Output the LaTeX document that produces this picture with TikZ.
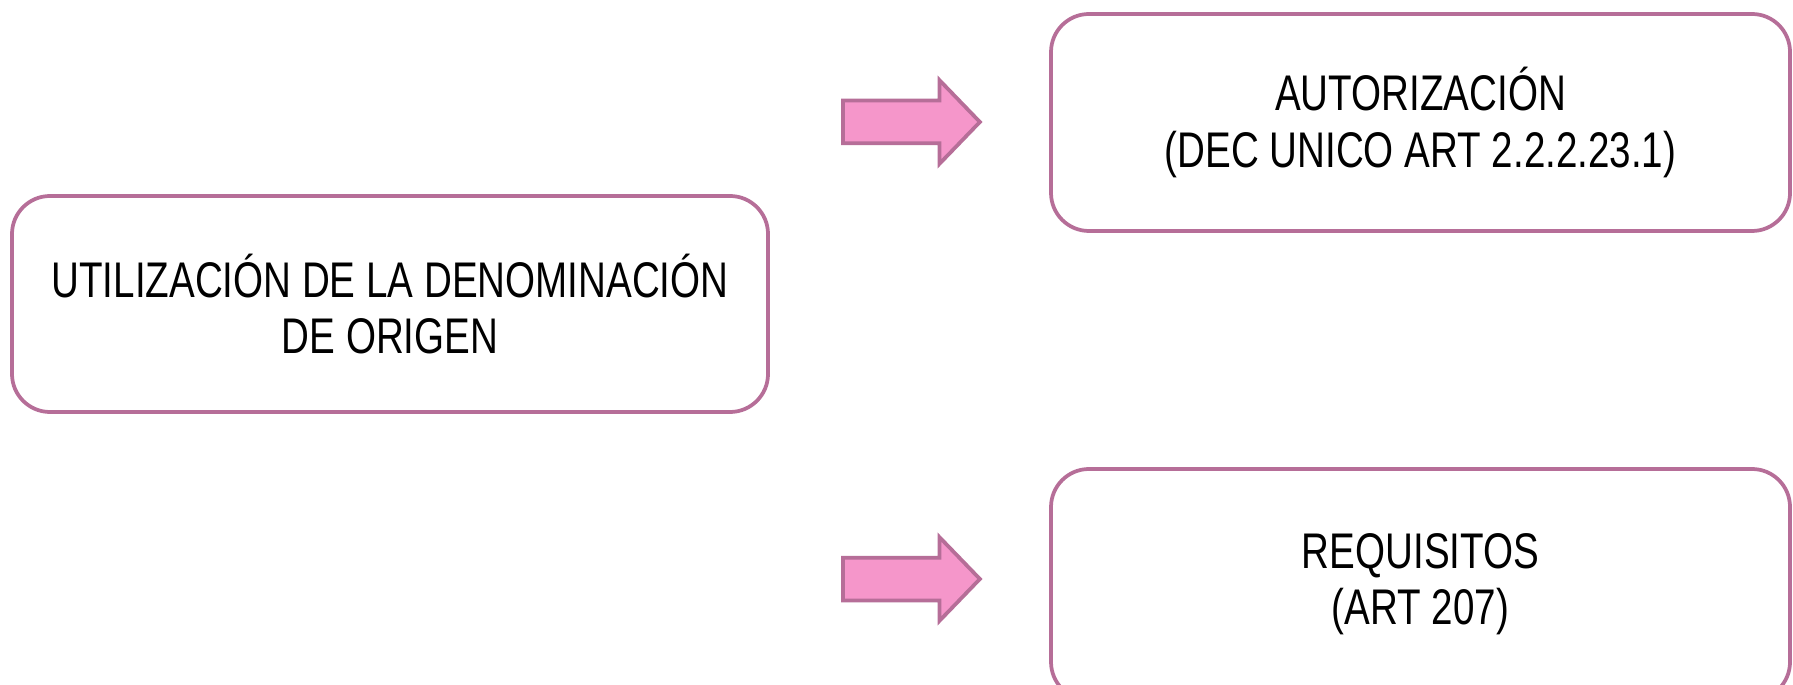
\documentclass[tikz,border=0pt]{standalone}
\usepackage{fontspec}
\setmainfont{Liberation Sans}[FakeStretch=0.77]
\usetikzlibrary{positioning,shapes.arrows}
\definecolor{boxline}{RGB}{182,110,152}
\definecolor{arrowfill}{RGB}{245,150,202}

\begin{document}
\begin{tikzpicture}
		[font=\fontsize{28.5pt}{31.9pt}\selectfont,
		rbox/.style={draw=boxline, line width=0.075cm, rounded corners=0.76cm, align=center, inner sep=0pt},
		blockarrow/.style={single arrow, draw=boxline, fill=arrowfill, line width=0.075cm,
			inner xsep=0pt, inner ysep=0.39cm, minimum height=2.74cm,
			single arrow head extend=0.41cm, single arrow tip angle=92, anchor=tail}]
		\clip (0,0) rectangle (35.86,13.68);
		\useasboundingbox (0,0) rectangle (35.86,13.68);
		\node (uso) [rbox, minimum width=15.12cm, minimum height=4.32cm] at (7.8,7.6)
			{UTILIZACIÓN DE LA DENOMINACIÓN\\DE ORIGEN};
		\node (aut) [rbox, minimum width=14.78cm, minimum height=4.34cm] at (28.41,11.23)
			{AUTORIZACIÓN\\(DEC UNICO ART 2.2.2.23.1)};
		\node (req) [rbox, minimum width=14.78cm, minimum height=4.62cm] at (28.41,1.99)
			{REQUISITOS\\(ART 207)};

		\node (arA) [blockarrow] at (16.82,11.24) {};
		\node (arB) [blockarrow] at (16.82,2.10) {};
	\end{tikzpicture}
\end{document}
